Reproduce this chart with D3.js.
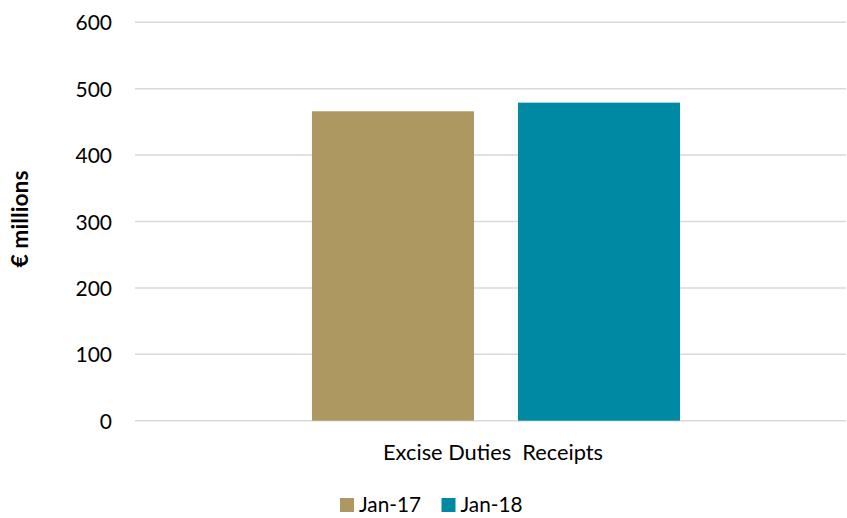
<!DOCTYPE html>
<html>
<head>
<meta charset="utf-8">
<script src="https://cdn.jsdelivr.net/npm/d3@7"></script>
<style>
  body { margin: 0; background: #fff; }
  text { font-family: Lato, "Open Sans", sans-serif; fill: #000; }
</style>
</head>
<body>
<svg id="chart" width="847" height="518"></svg>
<script>
const categories = ["Excise Duties  Receipts"];
const seriesNames = ["Jan-17", "Jan-18"];
const seriesColors = ["#AD9862", "#0089A3"];
const jan17Values = [466];
const jan18Values = [479];
const yTicks = [0, 100, 200, 300, 400, 500, 600];
const yTitle = "€ millions";

(function () {
const seriesValues = [jan17Values, jan18Values];
const svg = d3.select("#chart");
const pLeft = 135, pRight = 846, pTop = 22.3, pBottom = 420.7;

const y = d3.scaleLinear().domain([0, 600]).range([pBottom, pTop]);
const x0 = d3.scaleBand().domain(categories).range([pLeft, pRight])
  .paddingInner(0).paddingOuter(0.466).align(0.516);
const x1 = d3.scaleBand().domain(seriesNames).range([0, x0.bandwidth()])
  .paddingInner(0.2136).paddingOuter(0);

// fit a text element's font size so its width matches a target
function fitWidth(sel, target) {
  sel.each(function () {
    const fs = parseFloat(getComputedStyle(this).fontSize);
    const w = this.getComputedTextLength();
    if (w > 0) d3.select(this).style("font-size", (fs * target / w).toFixed(2) + "px");
  });
}

// gridlines
svg.append("g").selectAll("line").data(yTicks).join("line")
  .attr("x1", pLeft).attr("x2", pRight)
  .attr("y1", d => y(d)).attr("y2", d => y(d))
  .attr("stroke", "#D9D9D9").attr("stroke-width", 1.5);

// y axis labels
const yAxis = d3.axisLeft(y).tickValues(yTicks).tickSize(0).tickPadding(0);
const gy = svg.append("g").attr("transform", `translate(112,0)`).call(yAxis);
gy.select(".domain").remove();
gy.selectAll("text").style("font-family", "Lato, sans-serif").style("font-size", "21px")
  .attr("fill", "#000").attr("dy", "0.36em");

// bars
categories.forEach((c, ci) => {
  seriesNames.forEach((s, si) => {
    const v = seriesValues[si][ci];
    svg.append("rect")
      .attr("x", x0(c) + x1(s))
      .attr("width", x1.bandwidth())
      .attr("y", y(v))
      .attr("height", y(0) - y(v))
      .attr("fill", seriesColors[si]);
  });
});

// x axis label
const xAxis = d3.axisBottom(x0).tickSize(0).tickPadding(0);
const gx = svg.append("g").attr("transform", `translate(0,460)`).call(xAxis);
gx.select(".domain").remove();
gx.selectAll("text").style("font-family", "Lato, sans-serif").style("font-size", "21.7px").attr("fill", "#000")
  .attr("dy", "0").attr("x", 493 - x0(categories[0]) - x0.bandwidth() / 2).style("white-space", "pre");
fitWidth(gx.selectAll("text"), 220);

// y title
const yt = svg.append("text")
  .attr("transform", `translate(28,219) rotate(-90)`)
  .attr("text-anchor", "middle")
  .style("font-size", "25px").style("font-weight", "bold")
  .text(yTitle);
fitWidth(yt, 97);

// legend
const legendX = [340, 441.5];
const lg = svg.append("g");
seriesNames.forEach((s, i) => {
  lg.append("rect").attr("x", legendX[i]).attr("y", 498).attr("width", 14).attr("height", 14).attr("fill", seriesColors[i]);
  const t = lg.append("text").attr("x", legendX[i] + 19).attr("y", 512)
    .style("font-size", "21px").text(s);
  fitWidth(t, 62);
});
})();
</script>
</body>
</html>
